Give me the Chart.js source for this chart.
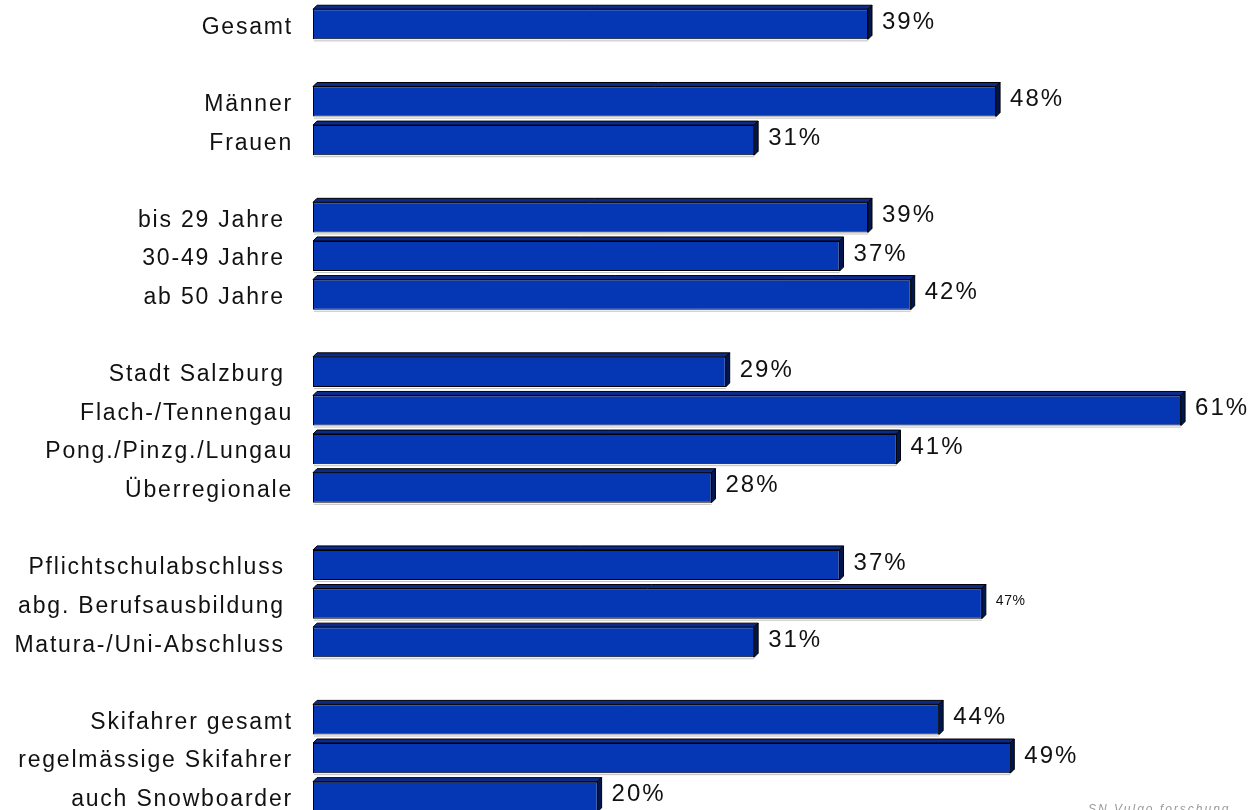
<!DOCTYPE html>
<html>
<head>
<meta charset="utf-8">
<script src="https://cdn.jsdelivr.net/npm/chart.js@4"></script>
<style>
  html, body { margin: 0; padding: 0; background: #fff; overflow: hidden; }
  #wrap { position: relative; width: 1260px; height: 816px; }
</style>
</head>
<body>
<div id="wrap"><canvas id="canvas-bar"></canvas></div>
<script>
// categories ('' = spacer rows between groups)
var categories = [
  'Gesamt', '',
  'Männer', 'Frauen', '',
  'bis 29 Jahre ', '30-49 Jahre ', 'ab 50 Jahre ', '',
  'Stadt Salzburg ', 'Flach-/Tennengau', 'Pong./Pinzg./Lungau', 'Überregionale', '',
  'Pflichtschulabschluss ', 'abg. Berufsausbildung ', 'Matura-/Uni-Abschluss ', '',
  'Skifahrer gesamt', 'regelmässige Skifahrer', 'auch Snowboarder'
]
var values = [
  39, null,
  48, 31, null,
  39, 37, 42, null,
  29, 61, 41, 28, null,
  37, 47, 31, null,
  44, 49, 20
]
var smallLabel = [15] // the 47% label is printed smaller
var sourceText = 'SN Vulgo forschung'

var bar3d = {
  id: 'bar3d',
  beforeDraw: function (chart) {
    chart.ctx.letterSpacing = '1.8px'
  },
  afterDatasetsDraw: function (chart) {
    var ctx = chart.ctx
    var d = 4
    chart.getDatasetMeta(0).data.forEach(function (el, i) {
      if (values[i] == null) return
      var p = el.getProps(['x', 'y', 'base', 'height'], true)
      var top = p.y - p.height / 2, bot = p.y + p.height / 2
      ctx.save()
      ctx.lineWidth = 1
      ctx.strokeStyle = '#000'
      // top face
      ctx.beginPath()
      ctx.moveTo(p.base, top)
      ctx.lineTo(p.base + d, top - d)
      ctx.lineTo(p.x + d, top - d)
      ctx.lineTo(p.x, top)
      ctx.closePath()
      ctx.fillStyle = '#0b2a8a'
      ctx.fill()
      ctx.stroke()
      // right face
      ctx.beginPath()
      ctx.moveTo(p.x, top)
      ctx.lineTo(p.x + d, top - d)
      ctx.lineTo(p.x + d, bot - d)
      ctx.lineTo(p.x, bot)
      ctx.closePath()
      ctx.fillStyle = '#001650'
      ctx.fill()
      ctx.stroke()
      // light shadow under the bar
      ctx.strokeStyle = 'rgba(0,0,0,0.25)'
      ctx.beginPath()
      ctx.moveTo(p.base + 1, bot + 1.5)
      ctx.lineTo(p.x, bot + 1.5)
      ctx.stroke()
      // value label
      var small = smallLabel.indexOf(i) >= 0
      ctx.letterSpacing = small ? '0.5px' : '2px'
      ctx.font = (small ? '14px' : '24px') + ' "Liberation Sans", Arial, sans-serif'
      ctx.fillStyle = '#111'
      ctx.textAlign = 'left'
      ctx.textBaseline = 'middle'
      ctx.fillText(values[i] + '%', p.x + 14, p.y - 2)
      ctx.restore()
    })
    ctx.save()
    ctx.letterSpacing = '2px'
    ctx.font = 'italic 12px "Liberation Sans", Arial, sans-serif'
    ctx.fillStyle = '#999'
    ctx.textAlign = 'left'
    ctx.textBaseline = 'alphabetic'
    ctx.fillText(sourceText, 1088, 813)
    ctx.restore()
  }
}

var ctx = document.getElementById('canvas-bar').getContext('2d')
new Chart(ctx, {
  type: 'bar',
  data: {
    labels: categories,
    datasets: [{
      data: values,
      backgroundColor: '#0536b4',
      borderColor: '#000',
      borderWidth: 1,
      borderSkipped: false,
      categoryPercentage: 1,
      barPercentage: 0.78
    }]
  },
  options: {
    indexAxis: 'y',
    responsive: true,
    maintainAspectRatio: false,
    animation: false,
    layout: { padding: { top: 5, right: 22, bottom: 0, left: 0 } },
    scales: {
      x: { display: false, min: 0, max: 65 },
      y: {
        grid: { display: false },
        border: { display: false },
        ticks: {
          padding: 12,
          labelOffset: 3,
          color: '#111',
          font: { family: '"Liberation Sans", Arial, sans-serif', size: 23 }
        },
        afterFit: function (scale) {
          scale.width = 313
          scale.paddingTop = 0
          scale.paddingBottom = 0
        }
      }
    },
    plugins: {
      legend: { display: false },
      tooltip: { enabled: false }
    }
  },
  plugins: [bar3d]
})
</script>
</body>
</html>
